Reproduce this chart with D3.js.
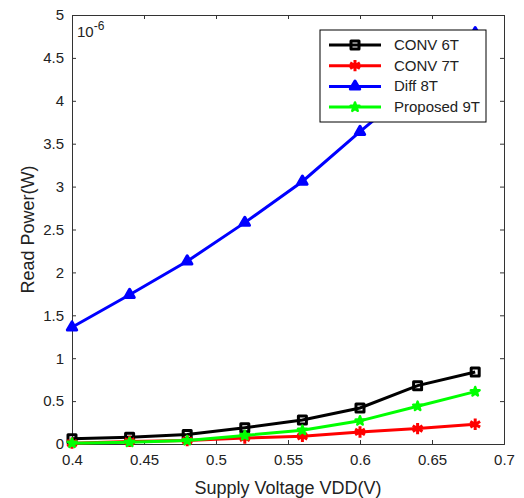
<!DOCTYPE html>
<html>
<head>
<meta charset="utf-8">
<script src="https://cdn.jsdelivr.net/npm/d3@7"></script>
<style>
  body { margin: 0; background: #fff; }
  text { font-family: "Liberation Sans", Arial, sans-serif; fill: #222; }
</style>
</head>
<body>
<div id="chart-area"></div>
<script>
const MARGIN = { LEFT: 72, RIGHT: 20, TOP: 15, BOTTOM: 54 }
const WIDTH = 524 - MARGIN.LEFT - MARGIN.RIGHT
const HEIGHT = 498 - MARGIN.TOP - MARGIN.BOTTOM

// data (values in 1e-6 W)
const vdd = [0.40, 0.44, 0.48, 0.52, 0.56, 0.60, 0.64, 0.68]
const conv6T = [0.06, 0.08, 0.11, 0.19, 0.28, 0.42, 0.68, 0.84]
const conv7T = [0.01, 0.03, 0.04, 0.07, 0.09, 0.14, 0.18, 0.23]
const diff8T = [1.36, 1.74, 2.13, 2.58, 3.06, 3.64, 4.20, 4.79]
const prop9T = [0.01, 0.02, 0.04, 0.10, 0.16, 0.27, 0.44, 0.61]
const xTicks = [0.4, 0.45, 0.5, 0.55, 0.6, 0.65, 0.7]
const yTicks = [0, 0.5, 1, 1.5, 2, 2.5, 3, 3.5, 4, 4.5, 5]

const series = [
  { name: "CONV 6T", values: conv6T, color: "#000", symbol: d3.symbolSquare, size: 64, fill: "none", sw: 3 },
  { name: "CONV 7T", values: conv7T, color: "#f00", symbol: d3.symbolAsterisk, size: 90, fill: "none", sw: 3 },
  { name: "Diff 8T", values: diff8T, color: "#00f", symbol: d3.symbolTriangle, size: 38, fill: "#00f", sw: 3 },
  { name: "Proposed 9T", values: prop9T, color: "#0f0", symbol: d3.symbolStar, size: 24, fill: "#0f0", sw: 2.5 }
]

const svg = d3.select("#chart-area").append("svg")
  .attr("width", 524)
  .attr("height", 498)

const g = svg.append("g")
  .attr("transform", `translate(${MARGIN.LEFT}, ${MARGIN.TOP})`)

const x = d3.scaleLinear().domain([0.4, 0.7]).range([0, WIDTH])
const y = d3.scaleLinear().domain([0, 5]).range([HEIGHT, 0])

// axes with inward ticks
const xAxis = g.append("g")
  .attr("transform", `translate(0, ${HEIGHT})`)
  .call(d3.axisBottom(x).tickValues(xTicks).tickSize(-4).tickPadding(10).tickFormat(d => d3.format("")(+d.toFixed(2))))
const xTop = g.append("g")
  .call(d3.axisTop(x).tickValues(xTicks).tickSize(-4).tickFormat(""))
const yAxis = g.append("g")
  .call(d3.axisLeft(y).tickValues(yTicks).tickSize(-4).tickPadding(8).tickFormat(d => d))
const yRight = g.append("g")
  .attr("transform", `translate(${WIDTH}, 0)`)
  .call(d3.axisRight(y).tickValues(yTicks).tickSize(-4).tickFormat(""))

g.selectAll(".domain").attr("stroke", "#333")
g.selectAll(".tick line").attr("stroke", "#333")
g.selectAll(".tick text").style("font-size", "15px").attr("fill", "#222")

// labels
svg.append("text")
  .attr("x", MARGIN.LEFT + WIDTH / 2)
  .attr("y", 494)
  .attr("text-anchor", "middle")
  .style("font-size", "18px")
  .text("Supply Voltage VDD(V)")

svg.append("text")
  .attr("transform", `translate(34, ${MARGIN.TOP + HEIGHT / 2}) rotate(-90)`)
  .attr("text-anchor", "middle")
  .style("font-size", "18px")
  .text("Read Power(W)")

const expo = g.append("text")
  .attr("x", 5)
  .attr("y", 22)
  .style("font-size", "15px")
expo.append("tspan").text("10")
expo.append("tspan").attr("dy", -7).style("font-size", "12px").text("-6")

// lines & markers
const line = d3.line()
  .x((d, i) => x(vdd[i]))
  .y(d => y(d))

series.forEach(s => {
  g.append("path")
    .datum(s.values)
    .attr("fill", "none")
    .attr("stroke", s.color)
    .attr("stroke-width", 3)
    .attr("d", line)

  g.selectAll(null)
    .data(s.values)
    .enter().append("path")
      .attr("transform", (d, i) => `translate(${x(vdd[i])}, ${y(d)})`)
      .attr("d", d3.symbol().type(s.symbol).size(s.size))
      .attr("fill", s.fill)
      .attr("stroke", s.color)
      .attr("stroke-width", s.sw)
      .attr("stroke-linejoin", "round")
})

// legend
const legend = svg.append("g").attr("transform", "translate(320, 30)")
legend.append("rect")
  .attr("width", 166)
  .attr("height", 92)
  .attr("fill", "#fff")
  .attr("stroke", "#000")
  .attr("stroke-width", 1)

series.forEach((s, i) => {
  const row = legend.append("g").attr("transform", `translate(0, ${15 + i * 20.7})`)
  row.append("line")
    .attr("x1", 9).attr("x2", 61)
    .attr("stroke", s.color)
    .attr("stroke-width", 3)
  row.append("path")
    .attr("transform", "translate(35, 0)")
    .attr("d", d3.symbol().type(s.symbol).size(s.size))
    .attr("fill", s.fill)
    .attr("stroke", s.color)
    .attr("stroke-width", s.sw)
    .attr("stroke-linejoin", "round")
  row.append("text")
    .attr("x", 74)
    .attr("y", 5)
    .style("font-size", "15px")
    .text(s.name)
})
</script>
</body>
</html>
